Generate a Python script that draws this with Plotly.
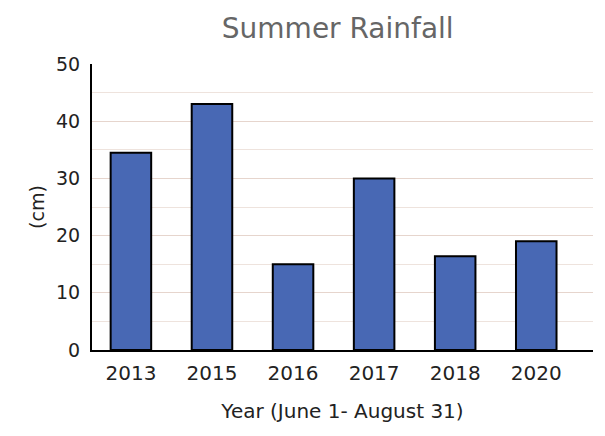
import plotly.graph_objects as go

years = ["2013", "2015", "2016", "2017", "2018", "2020"]
rainfall_cm = [34.5, 43, 15, 30, 16.4, 19]

fig = go.Figure()
fig.add_trace(go.Bar(
    x=years, y=rainfall_cm,
    marker=dict(color="#4868b4", line=dict(color="black", width=2)),
    width=0.5,
))

font_family = "DejaVu Sans"
fig.update_layout(
    width=605, height=436,
    margin=dict(l=84, r=20, t=56, b=94, autoexpand=False),
    paper_bgcolor="white", plot_bgcolor="white",
    showlegend=False,
    title=dict(text="Summer Rainfall", x=0.545, xanchor="center", y=0.954, yanchor="middle",
               font=dict(family=font_family, size=28, color="#666666")),
    font=dict(family=font_family, color="#222222"),
)
fig.update_xaxes(
    type="category", range=[-0.48, 5.7], automargin=False,
    showline=True, linecolor="black", linewidth=2,
    showgrid=False, ticks="", ticklabelstandoff=4,
    tickfont=dict(size=20, color="#222222"),
    title=dict(text="Year (June 1- August 31)", font=dict(size=20, color="#222222"), standoff=20),
)
fig.update_yaxes(
    range=[0, 50], dtick=10, automargin=False,
    showline=True, linecolor="black", linewidth=2,
    showgrid=True, gridcolor="#e6d5cd", gridwidth=1,
    minor=dict(dtick=5, showgrid=True, gridcolor="#eee3dd", gridwidth=1),
    ticks="", ticklabelstandoff=6,
    tickfont=dict(size=19, color="#222222"),
    title=dict(text="(cm)", font=dict(size=19, color="#222222"), standoff=6),
    zeroline=False,
)
fig.write_html("out.html")
